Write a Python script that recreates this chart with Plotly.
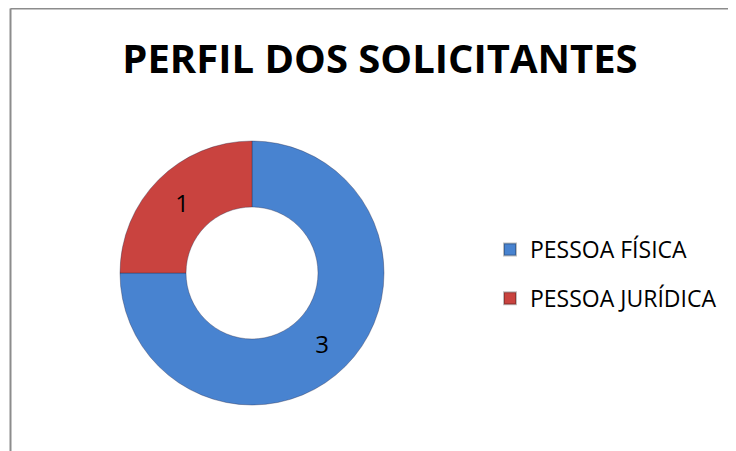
import plotly.graph_objects as go

categories = ["PESSOA FÍSICA", "PESSOA JURÍDICA"]
values = [3, 1]
colors = ["#4883D0", "#C9433F"]
title_text = "PERFIL DOS SOLICITANTES"

# page body has an 8px margin; figure sits at (8, 8) in the window
OFF = 8
W, H = 736 - OFF, 451 - OFF


def px(x):
    return (x - OFF) / W


def py(y):
    return 1 - (y - OFF) / H


fig = go.Figure()
fig.add_trace(go.Pie(
    labels=categories,
    values=values,
    hole=0.5,
    sort=False,
    direction="clockwise",
    rotation=0,
    marker=dict(colors=colors, line=dict(color="rgba(40,40,70,0.45)", width=0.8)),
    textinfo="value",
    textposition="inside",
    insidetextorientation="horizontal",
    textfont=dict(family="Open Sans", size=24, color="#000000"),
    showlegend=False,
    domain=dict(x=[px(120), px(384)], y=[py(405), py(141)]),
    hoverinfo="label+value",
))

# legend entries
for i, (cat, col) in enumerate(zip(categories, colors)):
    fig.add_trace(go.Scatter(
        x=[None], y=[None], mode="markers", name=cat,
        marker=dict(symbol="square", size=12, color=col,
                    line=dict(color="rgba(0,0,0,0.25)", width=1)),
        legendgroup=f"g{i}", showlegend=True,
    ))

fig.update_layout(
    width=W, height=H,
    margin=dict(l=0, r=0, t=0, b=0),
    paper_bgcolor="white",
    plot_bgcolor="white",
    xaxis=dict(visible=False, domain=[0.9, 0.91]),
    yaxis=dict(visible=False, domain=[0.9, 0.91]),
    title=dict(text=f"<b>{title_text}</b>", x=px(380), xanchor="center",
               y=py(59), yanchor="middle",
               font=dict(family="Open Sans", size=40, color="#000000")),
    legend=dict(x=px(490), xanchor="left", y=py(228), yanchor="top",
                font=dict(family="Open Sans", size=23, color="#000000"),
                tracegroupgap=16, itemsizing="constant", bgcolor="rgba(0,0,0,0)"),
    shapes=[
        dict(type="line", xref="paper", yref="paper",
             x0=px(10.5), x1=1, y0=py(8.5), y1=py(8.5),
             line=dict(color="#8C8C8C", width=2)),
        dict(type="line", xref="paper", yref="paper",
             x0=px(10.5), x1=px(10.5), y0=0, y1=py(8.5),
             line=dict(color="#8C8C8C", width=2)),
    ],
)

fig.write_html("out.html", config={"displayModeBar": False})
